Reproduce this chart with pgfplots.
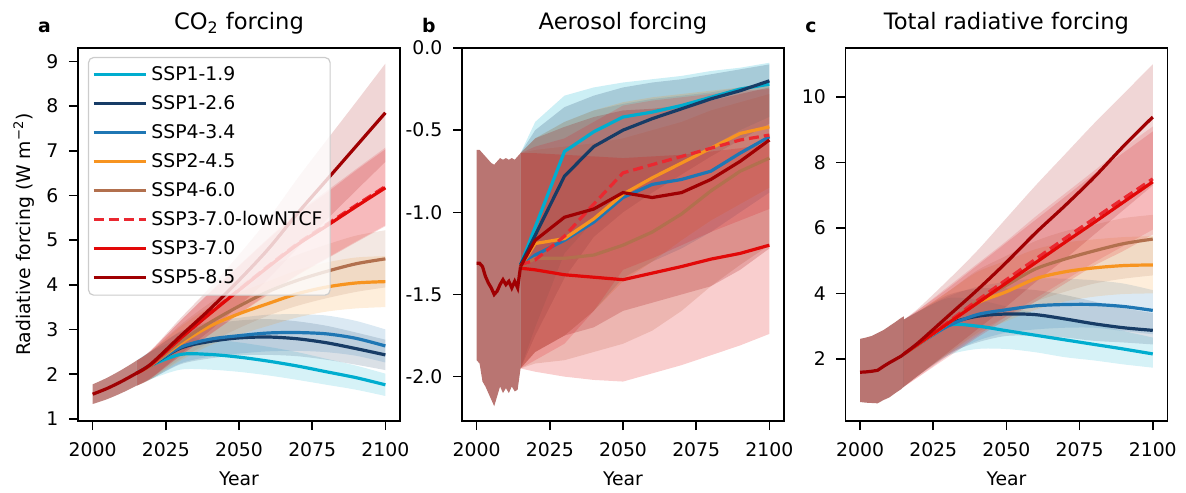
\documentclass[border=0pt]{standalone}
\usepackage{fontspec}
\setmainfont{DejaVu Sans}
\usepackage{pgfplots}
\pgfplotsset{compat=1.18}
\usepackage{pgfplotstable}
\usepgfplotslibrary{fillbetween}

% scenario colours
\definecolor{sspA}{RGB}{0,173,207}    % SSP1-1.9
\definecolor{sspB}{RGB}{23,60,102}    % SSP1-2.6
\definecolor{sspC}{RGB}{31,119,180}   % SSP4-3.4
\definecolor{sspD}{RGB}{247,148,32}   % SSP2-4.5
\definecolor{sspE}{RGB}{178,112,78}   % SSP4-6.0
\definecolor{sspF}{RGB}{234,40,48}    % SSP3-7.0-lowNTCF
\definecolor{sspG}{RGB}{226,8,8}      % SSP3-7.0
\definecolor{sspH}{RGB}{160,0,2}      % SSP5-8.5
\definecolor{histband}{RGB}{181,110,106}
\definecolor{legframe}{RGB}{204,204,204}

\newcommand{\lab}{\fontsize{9.4}{11.3}\selectfont}
\newcommand{\ttl}{\fontsize{11.3}{13.5}\selectfont}

% ---------------- a: CO2 forcing ----------------
\pgfplotstableread{
yr   lo   mid  hi
2000 1.33 1.55 1.77
2005 1.44 1.68 1.92
2010 1.58 1.84 2.10
2015 1.74 2.02 2.30
}\aHist
\pgfplotstableread{
yr   lo   mid  hi
2015 1.74 2.02 2.30
2020 1.89 2.20 2.51
2030 2.10 2.44 2.78
2040 2.10 2.44 2.78
2050 2.05 2.38 2.71
2060 1.97 2.29 2.61
2070 1.87 2.18 2.49
2080 1.76 2.05 2.34
2090 1.65 1.92 2.19
2100 1.51 1.76 2.01
}\aSa
\pgfplotstableread{
yr   lo   mid  hi
2015 1.74 2.02 2.30
2020 1.89 2.20 2.51
2030 2.22 2.58 2.94
2040 2.35 2.73 3.11
2050 2.42 2.81 3.20
2060 2.43 2.83 3.23
2070 2.40 2.79 3.18
2080 2.32 2.70 3.08
2090 2.21 2.57 2.93
2100 2.09 2.43 2.77
}\aSb
\pgfplotstableread{
yr   lo   mid  hi
2015 1.74 2.02 2.30
2020 1.89 2.20 2.51
2030 2.24 2.60 2.96
2040 2.39 2.78 3.17
2050 2.46 2.86 3.26
2060 2.51 2.92 3.33
2070 2.52 2.93 3.34
2080 2.49 2.90 3.31
2090 2.41 2.80 3.19
2100 2.26 2.63 3.00
}\aSc
\pgfplotstableread{
yr   lo   mid  hi
2015 1.74 2.02 2.30
2020 1.89 2.20 2.51
2030 2.30 2.68 3.06
2040 2.64 3.07 3.50
2050 2.88 3.35 3.82
2060 3.08 3.58 4.08
2070 3.27 3.80 4.33
2080 3.40 3.95 4.50
2090 3.47 4.04 4.61
2100 3.50 4.07 4.64
}\aSd
\pgfplotstableread{
yr   lo   mid  hi
2015 1.74 2.02 2.30
2020 1.89 2.20 2.51
2030 2.34 2.72 3.10
2040 2.71 3.15 3.59
2050 3.03 3.52 4.01
2060 3.31 3.85 4.39
2070 3.53 4.10 4.67
2080 3.70 4.30 4.90
2090 3.84 4.47 5.10
2100 3.94 4.58 5.22
}\aSe
\pgfplotstableread{
yr   lo   mid  hi
2015 1.74 2.02 2.30
2020 1.91 2.22 2.53
2030 2.41 2.80 3.19
2040 2.89 3.36 3.83
2050 3.35 3.89 4.43
2060 3.80 4.42 5.04
2070 4.23 4.92 5.61
2080 4.60 5.35 6.10
2090 4.97 5.78 6.59
2100 5.33 6.20 7.07
}\aSf
\pgfplotstableread{
yr   lo   mid  hi
2015 1.74 2.02 2.30
2020 1.91 2.22 2.53
2030 2.41 2.80 3.19
2040 2.88 3.35 3.82
2050 3.34 3.88 4.42
2060 3.78 4.40 5.02
2070 4.21 4.90 5.59
2080 4.58 5.32 6.06
2090 4.95 5.75 6.56
2100 5.31 6.17 7.03
}\aSg
\pgfplotstableread{
yr   lo   mid  hi
2015 1.74 2.02 2.30
2020 1.92 2.23 2.54
2030 2.45 2.85 3.25
2040 2.97 3.45 3.93
2050 3.53 4.10 4.67
2060 4.13 4.80 5.47
2070 4.82 5.60 6.38
2080 5.46 6.35 7.24
2090 6.11 7.10 8.09
2100 6.75 7.85 8.95
}\aSh

% ---------------- b: aerosol forcing ----------------
\pgfplotstableread{
yr   lo    mid   hi
2000 -1.90 -1.31 -0.62
2001 -1.92 -1.31 -0.62
2002 -2.03 -1.33 -0.64
2003 -2.06 -1.39 -0.66
2004 -2.10 -1.43 -0.68
2005 -2.14 -1.46 -0.70
2006 -2.18 -1.50 -0.71
2007 -2.12 -1.48 -0.69
2008 -2.06 -1.44 -0.67
2009 -2.10 -1.41 -0.68
2010 -2.07 -1.44 -0.67
2011 -2.10 -1.42 -0.68
2012 -2.06 -1.46 -0.67
2013 -2.09 -1.42 -0.68
2014 -2.08 -1.46 -0.66
2015 -1.95 -1.33 -0.64
}\bHist
\pgfplotstableread{
yr   lo    mid   hi
2015 -1.95 -1.32 -0.64
2020 -1.70 -1.09 -0.45
2030 -1.25 -0.63 -0.29
2040 -1.05 -0.51 -0.24
2050 -0.90 -0.42 -0.21
2060 -0.80 -0.39 -0.19
2070 -0.70 -0.35 -0.17
2080 -0.60 -0.30 -0.14
2090 -0.50 -0.25 -0.12
2100 -0.42 -0.22 -0.09
}\bSa
\pgfplotstableread{
yr   lo    mid   hi
2015 -1.95 -1.32 -0.64
2020 -1.75 -1.14 -0.50
2030 -1.40 -0.78 -0.36
2040 -1.15 -0.60 -0.29
2050 -1.00 -0.50 -0.24
2060 -0.88 -0.43 -0.21
2070 -0.77 -0.37 -0.19
2080 -0.66 -0.31 -0.16
2090 -0.56 -0.26 -0.13
2100 -0.46 -0.20 -0.10
}\bSb
\pgfplotstableread{
yr   lo    mid   hi
2015 -1.95 -1.33 -0.64
2020 -1.85 -1.26 -0.55
2030 -1.75 -1.17 -0.45
2040 -1.60 -1.06 -0.38
2050 -1.40 -0.91 -0.34
2060 -1.30 -0.83 -0.31
2070 -1.22 -0.80 -0.29
2080 -1.12 -0.75 -0.27
2090 -1.00 -0.64 -0.24
2100 -0.88 -0.54 -0.21
}\bSc
\pgfplotstableread{
yr   lo    mid   hi
2015 -1.95 -1.33 -0.64
2020 -1.85 -1.19 -0.55
2030 -1.75 -1.16 -0.45
2040 -1.60 -1.04 -0.38
2050 -1.42 -0.89 -0.33
2060 -1.30 -0.79 -0.30
2070 -1.17 -0.70 -0.28
2080 -1.05 -0.61 -0.26
2090 -0.95 -0.52 -0.24
2100 -0.85 -0.48 -0.22
}\bSd
\pgfplotstableread{
yr   lo    mid   hi
2015 -1.95 -1.33 -0.64
2020 -1.92 -1.28 -0.62
2030 -1.90 -1.28 -0.60
2040 -1.85 -1.26 -0.58
2050 -1.80 -1.20 -0.55
2060 -1.72 -1.12 -0.50
2070 -1.60 -1.01 -0.45
2080 -1.45 -0.87 -0.38
2090 -1.32 -0.75 -0.33
2100 -1.20 -0.67 -0.28
}\bSe
\pgfplotstableread{
yr   lo    mid   hi
2015 -1.95 -1.32 -0.64
2020 -1.90 -1.29 -0.60
2030 -1.80 -1.145 -0.55
2040 -1.60 -0.95 -0.45
2050 -1.35 -0.76 -0.35
2060 -1.28 -0.71 -0.32
2070 -1.20 -0.66 -0.30
2080 -1.12 -0.61 -0.28
2090 -1.05 -0.56 -0.26
2100 -0.98 -0.53 -0.25
}\bSf
\pgfplotstableread{
yr   lo    mid   hi
2015 -1.95 -1.34 -0.64
2020 -1.97 -1.35 -0.64
2030 -2.00 -1.38 -0.65
2040 -2.02 -1.395 -0.66
2050 -2.03 -1.41 -0.67
2060 -1.98 -1.37 -0.66
2070 -1.93 -1.33 -0.65
2080 -1.87 -1.285 -0.63
2090 -1.81 -1.25 -0.61
2100 -1.74 -1.20 -0.58
}\bSg
\pgfplotstableread{
yr   lo    mid   hi
2015 -1.95 -1.33 -0.64
2020 -1.85 -1.17 -0.55
2030 -1.75 -1.03 -0.48
2040 -1.70 -0.98 -0.42
2050 -1.60 -0.88 -0.38
2060 -1.55 -0.91 -0.37
2070 -1.50 -0.88 -0.35
2080 -1.45 -0.80 -0.32
2090 -1.35 -0.69 -0.28
2100 -1.22 -0.56 -0.24
}\bSh

% ---------------- c: total radiative forcing ----------------
\pgfplotstableread{
yr   lo   mid  hi
2000 0.68 1.59 2.61
2002 0.66 1.60 2.65
2004 0.65 1.62 2.70
2006 0.64 1.65 2.79
2008 0.74 1.77 2.88
2010 0.82 1.88 3.00
2012 0.95 1.98 3.12
2014 1.07 2.08 3.25
2015 1.15 2.15 3.30
}\cHist
\pgfplotstableread{
yr   lo   mid  hi
2015 1.15 2.15 3.20
2020 1.50 2.45 3.45
2030 2.10 3.02 3.85
2040 2.30 3.00 3.80
2050 2.30 2.86 3.60
2060 2.20 2.72 3.40
2070 2.05 2.58 3.20
2080 1.95 2.44 3.05
2090 1.83 2.30 2.85
2100 1.73 2.15 2.65
}\cSa
\pgfplotstableread{
yr   lo   mid  hi
2015 1.15 2.15 3.20
2020 1.50 2.45 3.45
2030 2.15 3.05 3.95
2040 2.50 3.30 4.15
2050 2.70 3.37 4.15
2060 2.70 3.35 4.10
2070 2.65 3.22 3.95
2080 2.55 3.07 3.75
2090 2.50 2.95 3.55
2100 2.44 2.87 3.40
}\cSb
\pgfplotstableread{
yr   lo   mid  hi
2015 1.15 2.15 3.20
2020 1.50 2.45 3.45
2030 2.10 3.00 3.90
2040 2.55 3.35 4.20
2050 2.80 3.50 4.35
2060 2.90 3.62 4.45
2070 2.95 3.66 4.45
2080 2.95 3.66 4.40
2090 2.85 3.60 4.30
2100 2.75 3.48 4.10
}\cSc
\pgfplotstableread{
yr   lo   mid  hi
2015 1.15 2.15 3.20
2020 1.50 2.45 3.45
2030 2.15 3.08 4.05
2040 2.75 3.70 4.65
2050 3.15 4.05 5.00
2060 3.50 4.45 5.35
2070 3.75 4.66 5.55
2080 3.90 4.78 5.65
2090 3.98 4.85 5.72
2100 4.00 4.87 5.75
}\cSd
\pgfplotstableread{
yr   lo   mid  hi
2015 1.15 2.15 3.20
2020 1.50 2.45 3.45
2030 2.15 3.10 4.05
2040 2.80 3.75 4.70
2050 3.30 4.25 5.15
2060 3.75 4.75 5.60
2070 4.05 5.05 5.90
2080 4.30 5.30 6.10
2090 4.45 5.52 6.30
2100 4.55 5.66 6.40
}\cSe
\pgfplotstableread{
yr   lo   mid  hi
2015 1.15 2.15 3.20
2020 1.45 2.47 3.50
2030 2.10 3.12 4.20
2040 2.70 3.78 4.90
2050 3.30 4.42 5.60
2060 3.85 5.05 6.35
2070 4.40 5.68 7.05
2080 4.95 6.29 7.75
2090 5.45 6.90 8.45
2100 5.95 7.50 9.10
}\cSf
\pgfplotstableread{
yr   lo   mid  hi
2015 1.15 2.15 3.20
2020 1.45 2.46 3.50
2030 2.05 3.08 4.15
2040 2.65 3.70 4.85
2050 3.20 4.32 5.55
2060 3.75 4.94 6.25
2070 4.30 5.56 6.95
2080 4.85 6.17 7.65
2090 5.30 6.79 8.30
2100 5.80 7.41 8.95
}\cSg
\pgfplotstableread{
yr   lo   mid  hi
2015 1.15 2.15 3.20
2020 1.50 2.50 3.55
2030 2.20 3.30 4.40
2040 2.90 4.10 5.30
2050 3.60 4.95 6.30
2060 4.35 5.85 7.30
2070 5.05 6.68 8.25
2080 5.80 7.55 9.20
2090 6.55 8.50 10.10
2100 7.30 9.39 11.00
}\cSh

% shaded range between the lo and hi columns of a table
% #1 table, #2 colour, #3 unique id, #4 interpolation (smooth / sharp plot)
\newcommand{\rangeband}[4]{%
  \addplot[draw=none, forget plot, name path=U#3, #4] table[x=yr, y=hi]{#1};
  \addplot[draw=none, forget plot, name path=L#3, #4] table[x=yr, y=lo]{#1};
  \addplot[draw=none, fill=#2, bandfill, forget plot] fill between[of=U#3 and L#3];
}

\pgfplotsset{
  bandfill/.style={fill opacity=0.2},
  panel/.style={
    scale only axis, width=161pt, height=186.5pt,
    xmin=1995, xmax=2105, xtick={2000,2025,2050,2075,2100},
    tick align=outside, tick pos=left, major tick length=4.5pt,
    every tick/.style={black, line width=0.8pt},
    axis line style={line width=0.9pt},
    /pgf/number format/assume math mode=true,
    /pgf/number format/1000 sep={},
    tick label style={font=\lab},
    xticklabel style={yshift=-2.5pt},
    yticklabel style={xshift=-1.8pt},
    xlabel={Year},
    xlabel style={font=\lab, at={(axis description cs:0.5,0)}, anchor=base, yshift=-32pt},
    every axis title/.style={font=\ttl, at={(axis description cs:0.5,1)}, anchor=base, yshift=9.2pt},
  },
  sspline/.style={line width=1.6pt},
}

\begin{document}
\begin{tikzpicture}
% page frame
\path (0,0) rectangle (593pt,246pt);

% ---------- panel a ----------
\begin{axis}[panel, name=pa, at={(39pt,35.5pt)}, anchor=south west,
  bandfill/.style={fill opacity=0.16},
  ymin=0.95, ymax=9.3, ytick={1,2,...,9},
  title={CO\textsubscript{2} forcing},
  ylabel={Radiative forcing (W m\textsuperscript{−2})},
  ylabel style={font=\lab, at={(axis description cs:-0.168,0.5)}, anchor=center},
  legend style={at={(axis description cs:0.031,0.976)}, anchor=north west,
    font=\lab, draw=legframe, line width=0.6pt, rounded corners=2.5pt,
    fill=white, fill opacity=0.8, draw opacity=1, text opacity=1,
    inner xsep=1.8pt, inner ysep=1.4pt, row sep=0pt,
    nodes={text height=7.5pt, text depth=2.3pt, inner ysep=2.35pt}},
  legend cell align=left,
  legend image code/.code={%
    \path (0pt,0pt) -- (26pt,0pt);
    \draw[#1, line width=1.6pt, rounded corners=0pt] (0pt,0pt) -- (20.5pt,0pt);},
]
\addplot[draw=none, forget plot, name path=aHU, smooth] table[x=yr, y=hi]{\aHist};
\addplot[draw=none, forget plot, name path=aHL, smooth] table[x=yr, y=lo]{\aHist};
\addplot[draw=none, fill=histband, fill opacity=0.85, forget plot] fill between[of=aHU and aHL];
\rangeband{\aSa}{sspA}{aa}{smooth}
\rangeband{\aSb}{sspB}{ab}{smooth}
\rangeband{\aSc}{sspC}{ac}{smooth}
\rangeband{\aSd}{sspD}{ad}{smooth}
\rangeband{\aSe}{sspE}{ae}{smooth}
\rangeband{\aSf}{sspF}{af}{smooth}
\rangeband{\aSg}{sspG}{ag}{smooth}
\rangeband{\aSh}{sspH}{ah}{smooth}
\addplot[sspA, sspline, smooth] table[x=yr, y=mid]{\aSa};
\addlegendentry{SSP1-1.9}
\addplot[sspB, sspline, smooth] table[x=yr, y=mid]{\aSb};
\addlegendentry{SSP1-2.6}
\addplot[sspC, sspline, smooth] table[x=yr, y=mid]{\aSc};
\addlegendentry{SSP4-3.4}
\addplot[sspD, sspline, smooth] table[x=yr, y=mid]{\aSd};
\addlegendentry{SSP2-4.5}
\addplot[sspE, sspline, smooth] table[x=yr, y=mid]{\aSe};
\addlegendentry{SSP4-6.0}
\addplot[sspF, sspline, smooth, dash pattern=on 5pt off 2.5pt] table[x=yr, y=mid]{\aSf};
\addlegendentry{SSP3-7.0-lowNTCF}
\addplot[sspG, sspline, smooth] table[x=yr, y=mid]{\aSg};
\addlegendentry{SSP3-7.0}
\addplot[sspH, sspline, smooth] table[x=yr, y=mid]{\aSh};
\addlegendentry{SSP5-8.5}
\addplot[sspH, sspline, smooth, forget plot] table[x=yr, y=mid]{\aHist};
\end{axis}

% ---------- panel b ----------
\begin{axis}[panel, name=pb, at={(231pt,35.5pt)}, anchor=south west,
  ymin=-2.27, ymax=0, ytick={-2,-1.5,-1,-0.5,0},
  yticklabels={-2.0,-1.5,-1.0,-0.5,0.0},
  title={Aerosol forcing},
]
\addplot[draw=none, forget plot, name path=bHU] table[x=yr, y=hi]{\bHist};
\addplot[draw=none, forget plot, name path=bHL] table[x=yr, y=lo]{\bHist};
\addplot[draw=none, fill=histband, fill opacity=0.95, forget plot] fill between[of=bHU and bHL];
\rangeband{\bSa}{sspA}{ba}{sharp plot}
\rangeband{\bSb}{sspB}{bb}{sharp plot}
\rangeband{\bSc}{sspC}{bc}{sharp plot}
\rangeband{\bSd}{sspD}{bd}{sharp plot}
\rangeband{\bSe}{sspE}{be}{sharp plot}
\rangeband{\bSf}{sspF}{bf}{sharp plot}
\rangeband{\bSg}{sspG}{bg}{sharp plot}
\rangeband{\bSh}{sspH}{bh}{sharp plot}
\addplot[sspA, sspline] table[x=yr, y=mid]{\bSa};
\addplot[sspB, sspline] table[x=yr, y=mid]{\bSb};
\addplot[sspC, sspline] table[x=yr, y=mid]{\bSc};
\addplot[sspD, sspline] table[x=yr, y=mid]{\bSd};
\addplot[sspE, sspline] table[x=yr, y=mid]{\bSe};
\addplot[sspF, sspline, dash pattern=on 5pt off 2.5pt] table[x=yr, y=mid]{\bSf};
\addplot[sspG, sspline] table[x=yr, y=mid]{\bSg};
\addplot[sspH, sspline] table[x=yr, y=mid]{\bSh};
\addplot[sspH, sspline] table[x=yr, y=mid]{\bHist};
\end{axis}

% ---------- panel c ----------
\begin{axis}[panel, name=pc, at={(422.7pt,35.5pt)}, anchor=south west,
  bandfill/.style={fill opacity=0.16},
  ymin=0.1, ymax=11.5, ytick={2,4,6,8,10},
  title={Total radiative forcing},
]
\addplot[draw=none, forget plot, name path=cHU] table[x=yr, y=hi]{\cHist};
\addplot[draw=none, forget plot, name path=cHL] table[x=yr, y=lo]{\cHist};
\addplot[draw=none, fill=histband, fill opacity=0.95, forget plot] fill between[of=cHU and cHL];
\rangeband{\cSa}{sspA}{ca}{smooth}
\rangeband{\cSb}{sspB}{cb}{smooth}
\rangeband{\cSc}{sspC}{cc}{smooth}
\rangeband{\cSd}{sspD}{cd}{smooth}
\rangeband{\cSe}{sspE}{ce}{smooth}
\rangeband{\cSf}{sspF}{cf}{smooth}
\rangeband{\cSg}{sspG}{cg}{smooth}
\rangeband{\cSh}{sspH}{ch}{smooth}
\addplot[sspA, sspline, smooth] table[x=yr, y=mid]{\cSa};
\addplot[sspB, sspline, smooth] table[x=yr, y=mid]{\cSb};
\addplot[sspC, sspline, smooth] table[x=yr, y=mid]{\cSc};
\addplot[sspD, sspline, smooth] table[x=yr, y=mid]{\cSd};
\addplot[sspE, sspline, smooth] table[x=yr, y=mid]{\cSe};
\addplot[sspF, sspline, smooth, dash pattern=on 5pt off 2.5pt] table[x=yr, y=mid]{\cSf};
\addplot[sspG, sspline, smooth] table[x=yr, y=mid]{\cSg};
\addplot[sspH, sspline, smooth] table[x=yr, y=mid]{\cSh};
\addplot[sspH, sspline] table[x=yr, y=mid]{\cHist};
\end{axis}

% panel letters
\node[font=\lab\bfseries, anchor=base west] at ([xshift=-23.5pt, yshift=7.7pt]pa.north west) {a};
\node[font=\lab\bfseries, anchor=base west] at ([xshift=-23.5pt, yshift=7.7pt]pb.north west) {b};
\node[font=\lab\bfseries, anchor=base west] at ([xshift=-23.5pt, yshift=7.7pt]pc.north west) {c};
\end{tikzpicture}
\end{document}
